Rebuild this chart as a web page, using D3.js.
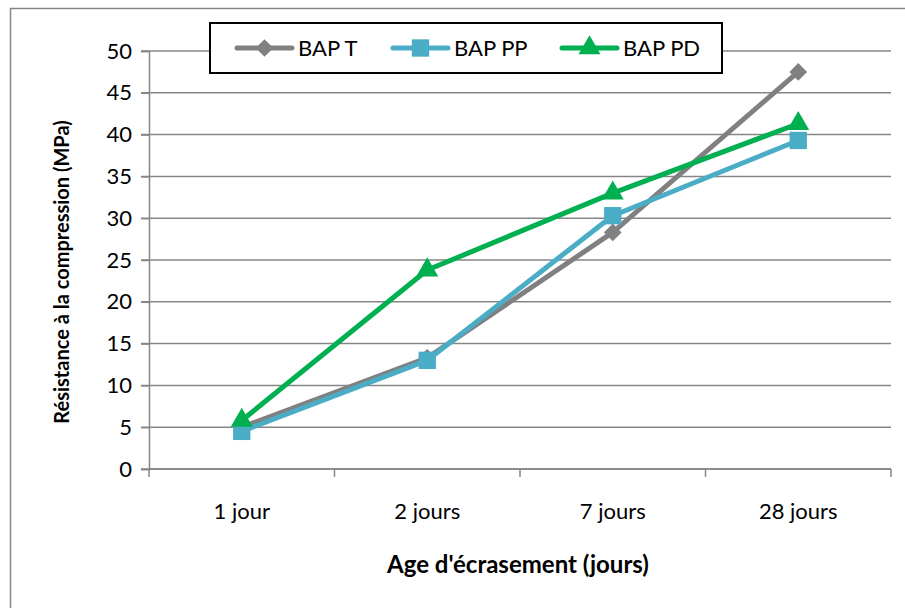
<!DOCTYPE html>
<html>
<head>
<meta charset="utf-8">
<script src="https://cdn.jsdelivr.net/npm/d3@7"></script>
<style>
body { margin: 0; background: #fff; }
text { font-family: Lato, "Open Sans", sans-serif; fill: #000; }
</style>
</head>
<body>
<div id="chart-area"></div>
<script>
// data
var categories = ["1 jour", "2 jours", "7 jours", "28 jours"]
var bapT = [5.0, 13.3, 28.3, 47.5]
var bapPP = [4.5, 13.0, 30.3, 39.3]
var bapPD = [5.8, 23.8, 33.0, 41.3]
var seriesNames = ["BAP T", "BAP PP", "BAP PD"]
var yTicks = [0, 5, 10, 15, 20, 25, 30, 35, 40, 45, 50]

var series = [
	{name: seriesNames[0], values: bapT, color: "#808080", marker: "diamond"},
	{name: seriesNames[1], values: bapPP, color: "#4BACC6", marker: "square"},
	{name: seriesNames[2], values: bapPD, color: "#00B050", marker: "triangle"}
]

var svg = d3.select("#chart-area").append("svg")
.attr("width", 905)
.attr("height", 608)

// outer frame
svg.append("rect")
.attr("x", 10.5).attr("y", 8.5)
.attr("width", 920).attr("height", 620)
.attr("fill", "none")
.attr("stroke", "#868686")
.attr("stroke-width", 1.5)

var margin = {top: 51, left: 149}
var width = 742, height = 418

var g = svg.append("g")
.attr("transform", "translate(" + margin.left + "," + margin.top + ")")

var x = d3.scaleBand()
.domain(categories)
.range([0, width])

var y = d3.scaleLinear()
.domain([0, 50])
.range([height, 0])

// gridlines
g.selectAll(".grid")
.data(yTicks)
.enter().append("line")
.attr("x1", -8).attr("x2", width)
.attr("y1", d => y(d)).attr("y2", d => y(d))
.attr("stroke", "#868686")
.attr("stroke-width", 1.5)

// y axis
var yAxis = g.append("g")
.call(d3.axisLeft(y).tickValues(yTicks).tickSize(8).tickPadding(9))
yAxis.select(".domain").attr("stroke", "#868686").attr("stroke-width", 1.5)
yAxis.selectAll("line").attr("stroke", "#868686").attr("stroke-width", 1.5)
yAxis.selectAll("text").attr("font-size", "22px").attr("font-family", "Lato")

// x axis
var xAxisG = g.append("g").attr("transform", "translate(0," + height + ")")
xAxisG.append("line")
.attr("x1", 0).attr("x2", width)
.attr("stroke", "#868686").attr("stroke-width", 1.5)
var bounds = categories.map(c => x(c)).concat([width])
xAxisG.selectAll(".tk").data(bounds).enter().append("line")
.attr("x1", d => d).attr("x2", d => d)
.attr("y1", 0).attr("y2", 8)
.attr("stroke", "#868686").attr("stroke-width", 1.5)
xAxisG.selectAll(".lbl").data(categories).enter().append("text")
.attr("x", d => x(d) + x.bandwidth() / 2)
.attr("y", 50)
.attr("text-anchor", "middle")
.attr("font-size", "22px")
.text(d => d)

// axis titles
svg.append("text")
.attr("x", 518).attr("y", 573)
.attr("text-anchor", "middle")
.attr("font-size", "24px")
.attr("font-weight", "bold")
.text("Age d'écrasement (jours)")

svg.append("text")
.attr("transform", "translate(69,272) rotate(-90)")
.attr("text-anchor", "middle")
.attr("font-size", "20px")
.attr("font-weight", "bold")
.text("Résistance à la compression (MPa)")

var symbolFor = {
	diamond: d3.symbol().type(d3.symbolDiamond2).size(200),
	square: d3.symbol().type(d3.symbolSquare).size(300),
	triangle: d3.symbol().type(d3.symbolTriangle).size(210)
}

var line = d3.line()
.x((d, i) => x(categories[i]) + x.bandwidth() / 2)
.y(d => y(d))

series.forEach(s => {
	g.append("path")
	.attr("d", line(s.values))
	.attr("fill", "none")
	.attr("stroke", s.color)
	.attr("stroke-width", 5)
	.attr("stroke-linejoin", "round")

	g.selectAll(".m-" + s.marker)
	.data(s.values)
	.enter().append("path")
	.attr("d", symbolFor[s.marker])
	.attr("transform", (d, i) => "translate(" + (x(categories[i]) + x.bandwidth() / 2) + "," + y(d) + ")")
	.attr("fill", s.color)
})

// legend
var legend = svg.append("g")
legend.append("rect")
.attr("x", 210).attr("y", 23)
.attr("width", 512).attr("height", 50)
.attr("fill", "#fff")
.attr("stroke", "#000")
.attr("stroke-width", 2)

var legendX = [237, 393, 562]
series.forEach((s, i) => {
	var row = legend.append("g").attr("transform", "translate(" + legendX[i] + ",48)")
	row.append("line")
	.attr("x1", 0).attr("x2", 55)
	.attr("stroke", s.color)
	.attr("stroke-width", 5)
	.attr("stroke-linecap", "round")
	row.append("path")
	.attr("d", symbolFor[s.marker])
	.attr("transform", "translate(27.5,0)")
	.attr("fill", s.color)
	row.append("text")
	.attr("x", 61)
	.attr("y", 8)
	.attr("font-size", "22px")
	.text(s.name)
})
</script>
</body>
</html>
